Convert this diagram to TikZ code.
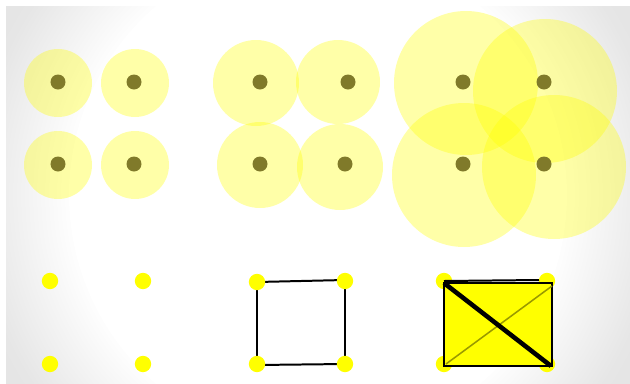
\documentclass[tikz,border=0pt]{standalone}
\usepackage{tikz}
\usetikzlibrary{positioning}
\usetikzlibrary{calc}
\definecolor{pureyellow}{RGB}{255,255,0}
\definecolor{dotolive}{RGB}{128,122,42}
\definecolor{cornergrey}{RGB}{229,229,229}
\tikzset{
  halo/.style={fill=pureyellow, fill opacity=0.34},
  site/.style={circle, fill=dotolive, inner sep=0pt, minimum size=0.45cm},
  vertex/.style={circle, fill=pureyellow, inner sep=0pt, minimum size=0.49cm},
  edge/.style={line width=1.7pt},
}

\begin{document}
\begin{tikzpicture}[x=0.03cm,y=-0.03cm]
		% canvas with soft grey corners
		\fill[white] (0,0) rectangle (630,384);
		\useasboundingbox (0,0) rectangle (630,384);
		\begin{scope}
			\clip (6,6) rectangle (630,384);
			\fill[cornergrey] (6,6) rectangle (630,384);
			\foreach \k [evaluate=\k as \op using 1/(31-\k),
			             evaluate=\k as \rad using 369-4*\k] in {1,...,30}
				\fill[white, fill opacity=\op] (318,195) circle[radius=\rad];
		\end{scope}
		
		% balls of radius 34 around the first four points
		\fill[halo] (58,83) circle[radius=34];
		\fill[halo] (135,83) circle[radius=34];
		\fill[halo] (58,165) circle[radius=34];
		\fill[halo] (135,165) circle[radius=34];
		\node[site] (a1) at (58,82) {};
		\node[site] (a2) at (134,82) {};
		\node[site] (a3) at (58,164) {};
		\node[site] (a4) at (134,164) {};
		
		% balls of radius 42, just touching
		\fill[halo] (256,83) circle[radius=43];
		\fill[halo] (338,82) circle[radius=42];
		\fill[halo] (260,165) circle[radius=43];
		\fill[halo] (340,167) circle[radius=43];
		\node[site] (b1) at (260,82) {};
		\node[site] (b2) at (348,82) {};
		\node[site] (b3) at (260,164) {};
		\node[site] (b4) at (345,164) {};
		
		% balls of radius 72, all overlapping
		\fill[halo] (466,83) circle[radius=72];
		\fill[halo] (545,91) circle[radius=72];
		\fill[halo] (464,175) circle[radius=72];
		\fill[halo] (554,167) circle[radius=72];
		\node[site] (c1) at (463,82) {};
		\node[site] (c2) at (544,82) {};
		\node[site] (c3) at (463,164) {};
		\node[site] (c4) at (544,164) {};
		
		% complex 1: vertices only
		\node[vertex] (p1) at (50,281) {};
		\node[vertex] (p2) at (143,281) {};
		\node[vertex] (p3) at (50,364) {};
		\node[vertex] (p4) at (143,364) {};
		
		% complex 2: the four edges of the cycle
		\coordinate (q1c) at (257,282);
		\coordinate (q2c) at (345,281);
		\coordinate (q3c) at (257,364);
		\coordinate (q4c) at (345,364);
		\draw[edge] (q1c) -- ($(q2c)+(0,-1)$);
		\draw[edge] (q2c) -- ($(q4c)+(0,-2)$);
		\draw[edge] (q4c) -- ($(q3c)+(0,1)$);
		\draw[edge] (q3c) -- (q1c);
		\node[vertex] (q1) at (q1c) {};
		\node[vertex] (q2) at (q2c) {};
		\node[vertex] (q3) at (q3c) {};
		\node[vertex] (q4) at (q4c) {};
		
		% complex 3: filled square with both diagonals
		\node[vertex] (r1) at (444,281) {};
		\node[vertex] (r2) at (547,281) {};
		\node[vertex] (r3) at (444,364) {};
		\node[vertex] (r4) at (547,364) {};
		\coordinate (s1) at (444,283);
		\coordinate (s2) at (552,283);
		\coordinate (s3) at (444,366);
		\coordinate (s4) at (552,366);
		\draw[fill=pureyellow, line width=1.8pt] (s1) rectangle (s4);
		\draw[edge] (r1.center) -- ($(r2.center)+(-8,-1)$);
		\draw[pureyellow!60!black, line width=1.3pt] ($(s3)+(2,-2)$) -- ($(s2)+(0,3)$);
		\draw[line width=3.9pt] (s1) -- ($(s4)+(-1,0)$);
\end{tikzpicture}
\end{document}
